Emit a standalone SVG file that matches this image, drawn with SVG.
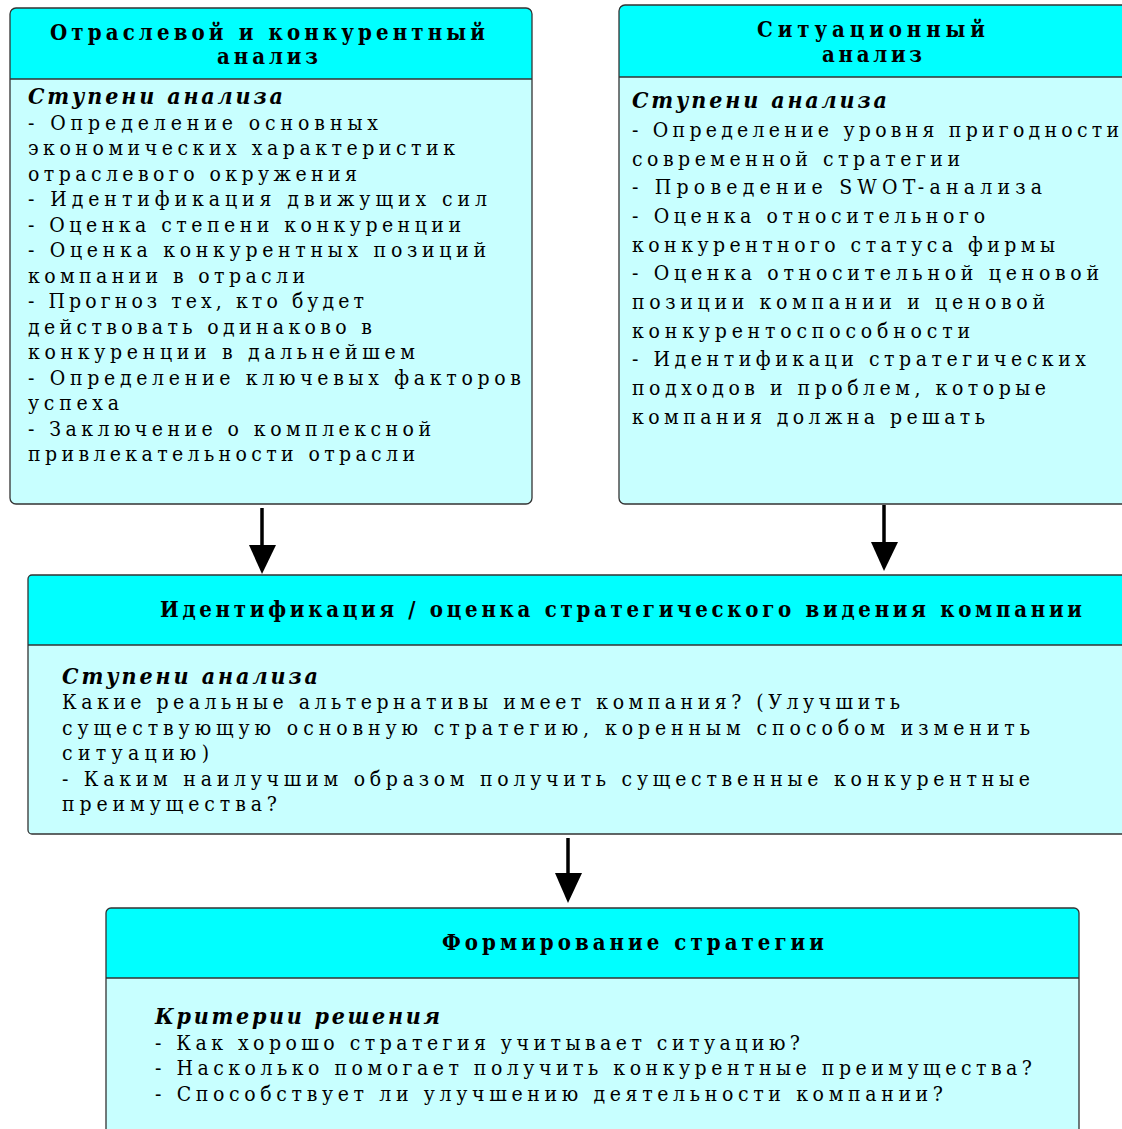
<svg xmlns="http://www.w3.org/2000/svg" width="1122" height="1129" viewBox="0 0 1122 1129">
<style>
.body{fill:#c8ffff;}
.head{fill:#00ffff;}
.frame{fill:none;stroke:#333;stroke-width:1.3;}
.sep{stroke:#333;stroke-width:1.3;}
text{font-family:"DejaVu Serif",serif;font-stretch:condensed;fill:#000;}
.h{font-weight:bold;font-size:22px;}
.t{font-size:21px;}
.s{font-weight:bold;font-style:italic;font-size:23px;}
.conn{stroke:#000;stroke-width:3.5;fill:none;}
.ah{fill:#000;}
</style>
<rect width="1122" height="1129" fill="#fff"/>

<g id="node-industry">
<rect class="body" x="10" y="8" width="522" height="496" rx="6"/>
<path class="head" d="M10,79 V14 Q10,8 16,8 H526 Q532,8 532,14 V79 Z"/>
<line class="sep" x1="10" y1="79" x2="532" y2="79"/>
<rect class="frame" x="10" y="8" width="522" height="496" rx="6"/>
<text class="h" x="50" y="40" textLength="435" lengthAdjust="spacing">Отраслевой и конкурентный</text>
<text class="h" x="217" y="64" textLength="101" lengthAdjust="spacing">анализ</text>
<text class="s" x="28" y="104" textLength="255" lengthAdjust="spacing">Ступени анализа</text>
<text class="t" x="28" y="130" textLength="350" lengthAdjust="spacing">- Определение основных</text>
<text class="t" x="28" y="155" textLength="427" lengthAdjust="spacing">экономических характеристик</text>
<text class="t" x="28" y="181" textLength="329" lengthAdjust="spacing">отраслевого окружения</text>
<text class="t" x="28" y="206" textLength="459" lengthAdjust="spacing">- Идентификация движущих сил</text>
<text class="t" x="28" y="232" textLength="433" lengthAdjust="spacing">- Оценка степени конкуренции</text>
<text class="t" x="28" y="257" textLength="458" lengthAdjust="spacing">- Оценка конкурентных позиций</text>
<text class="t" x="28" y="283" textLength="277" lengthAdjust="spacing">компании в отрасли</text>
<text class="t" x="28" y="308" textLength="336" lengthAdjust="spacing">- Прогноз тех, кто будет</text>
<text class="t" x="28" y="334" textLength="344" lengthAdjust="spacing">действовать одинаково в</text>
<text class="t" x="28" y="359" textLength="387" lengthAdjust="spacing">конкуренции в дальнейшем</text>
<text class="t" x="28" y="385" textLength="493" lengthAdjust="spacing">- Определение ключевых факторов</text>
<text class="t" x="28" y="410" textLength="91" lengthAdjust="spacing">успеха</text>
<text class="t" x="28" y="436" textLength="403" lengthAdjust="spacing">- Заключение о комплексной</text>
<text class="t" x="28" y="461" textLength="387" lengthAdjust="spacing">привлекательности отрасли</text>
</g>

<g id="node-situation">
<rect class="body" x="619" y="5" width="510" height="499" rx="6"/>
<path class="head" d="M619,77 V11 Q619,5 625,5 H1123 Q1129,5 1129,11 V77 Z"/>
<line class="sep" x1="619" y1="77" x2="1129" y2="77"/>
<rect class="frame" x="619" y="5" width="510" height="499" rx="6"/>
<text class="h" x="757" y="37" textLength="228" lengthAdjust="spacing">Ситуационный</text>
<text class="h" x="822" y="62" textLength="100" lengthAdjust="spacing">анализ</text>
<text class="s" x="632" y="108" textLength="255" lengthAdjust="spacing">Ступени анализа</text>
<text class="t" x="632" y="137" textLength="487" lengthAdjust="spacing">- Определение уровня пригодности</text>
<text class="t" x="632" y="166" textLength="328" lengthAdjust="spacing">современной стратегии</text>
<text class="t" x="632" y="194" textLength="410" lengthAdjust="spacing">- Проведение SWOT-анализа</text>
<text class="t" x="632" y="223" textLength="353" lengthAdjust="spacing">- Оценка относительного</text>
<text class="t" x="632" y="252" textLength="423" lengthAdjust="spacing">конкурентного статуса фирмы</text>
<text class="t" x="632" y="280" textLength="467" lengthAdjust="spacing">- Оценка относительной ценовой</text>
<text class="t" x="632" y="309" textLength="413" lengthAdjust="spacing">позиции компании и ценовой</text>
<text class="t" x="632" y="338" textLength="338" lengthAdjust="spacing">конкурентоспособности</text>
<text class="t" x="632" y="366" textLength="454" lengthAdjust="spacing">- Идентификаци стратегических</text>
<text class="t" x="632" y="395" textLength="414" lengthAdjust="spacing">подходов и проблем, которые</text>
<text class="t" x="632" y="424" textLength="353" lengthAdjust="spacing">компания должна решать</text>
</g>

<g id="node-vision">
<rect class="body" x="28" y="575" width="1104" height="259" rx="4"/>
<path class="head" d="M28,645 V579 Q28,575 32,575 H1128 Q1132,575 1132,579 V645 Z"/>
<line class="sep" x1="28" y1="645" x2="1132" y2="645"/>
<rect class="frame" x="28" y="575" width="1104" height="259" rx="4"/>
<text class="h" x="160" y="617" textLength="922" lengthAdjust="spacing">Идентификация / оценка стратегического видения компании</text>
<text class="s" x="62" y="684" textLength="256" lengthAdjust="spacing">Ступени анализа</text>
<text class="t" x="62" y="709" textLength="838" lengthAdjust="spacing">Какие реальные альтернативы имеет компания? (Улучшить</text>
<text class="t" x="62" y="735" textLength="968" lengthAdjust="spacing">существующую основную стратегию, коренным способом изменить</text>
<text class="t" x="62" y="760" textLength="147" lengthAdjust="spacing">ситуацию)</text>
<text class="t" x="62" y="786" textLength="968" lengthAdjust="spacing">- Каким наилучшим образом получить существенные конкурентные</text>
<text class="t" x="62" y="811" textLength="215" lengthAdjust="spacing">преимущества?</text>
</g>

<g id="node-strategy">
<rect class="body" x="106" y="908" width="973" height="240" rx="5"/>
<path class="head" d="M106,978 V913 Q106,908 111,908 H1074 Q1079,908 1079,913 V978 Z"/>
<line class="sep" x1="106" y1="978" x2="1079" y2="978"/>
<rect class="frame" x="106" y="908" width="973" height="240" rx="5"/>
<text class="h" x="442" y="950" textLength="382" lengthAdjust="spacing">Формирование стратегии</text>
<text class="s" x="155" y="1024" textLength="285" lengthAdjust="spacing">Критерии решения</text>
<text class="t" x="155" y="1050" textLength="645" lengthAdjust="spacing">- Как хорошо стратегия учитывает ситуацию?</text>
<text class="t" x="155" y="1075" textLength="877" lengthAdjust="spacing">- Насколько помогает получить конкурентные преимущества?</text>
<text class="t" x="155" y="1101" textLength="788" lengthAdjust="spacing">- Способствует ли улучшению деятельности компании?</text>
</g>

<g id="connectors">
<line class="conn" x1="262" y1="508" x2="262" y2="550"/>
<polygon class="ah" points="249,545 276,545 262,574"/>
<line class="conn" x1="884" y1="505" x2="884" y2="547"/>
<polygon class="ah" points="871,542 898,542 884,571"/>
<line class="conn" x1="568" y1="838" x2="568" y2="878"/>
<polygon class="ah" points="555,873 582,873 568,903"/>
</g>
</svg>
